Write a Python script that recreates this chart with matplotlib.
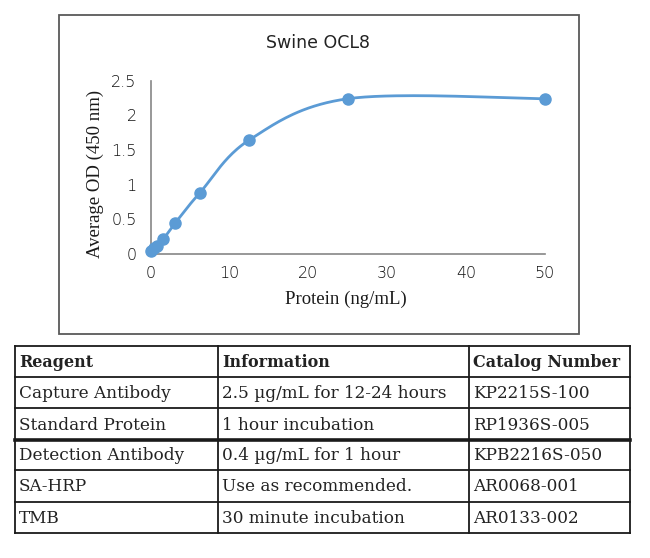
import numpy as np
import matplotlib
matplotlib.use("Agg")
import matplotlib.pyplot as plt
from matplotlib.patches import Rectangle
from matplotlib.lines import Line2D

# ---- data ----
protein = [0, 0.39, 0.78, 1.56, 3.125, 6.25, 12.5, 25, 50]
od = [0.04, 0.08, 0.12, 0.21, 0.45, 0.885, 1.645, 2.24, 2.24]
x_ticks = [0, 10, 20, 30, 40, 50]
y_ticks = [0, 0.5, 1, 1.5, 2, 2.5]
y_tick_labels = ["0", "0.5", "1", "1.5", "2", "2.5"]
title = "Swine OCL8"
x_label = "Protein (ng/mL)"
y_label = "Average OD (450 nm)"

table_header = ["Reagent", "Information", "Catalog Number"]
reagents = ["Capture Antibody", "Standard Protein", "Detection Antibody", "SA-HRP", "TMB"]
information = ["2.5 µg/mL for 12-24 hours", "1 hour incubation", "0.4 µg/mL for 1 hour",
               "Use as recommended.", "30 minute incubation"]
catalog = ["KP2215S-100", "RP1936S-005", "KPB2216S-050", "AR0068-001", "AR0133-002"]

W, H = 650, 558
fig = plt.figure(figsize=(W / 100, H / 100), dpi=100)
fig.patch.set_facecolor("white")

def fx(px):
    return px / W

def fy(py):
    return 1 - py / H

# outer chart box
fig.patches.append(Rectangle((fx(58.5), fy(334)), fx(578.5) - fx(58.5), fy(15) - fy(334),
                             transform=fig.transFigure, fill=False, edgecolor="#595959", lw=1.3))

# axes
x0p, x1p = 150.7, 545.0
y0p, y1p = 254.0, 80.7
ax = fig.add_axes([fx(x0p), fy(y0p), fx(x1p) - fx(x0p), fy(y1p) - fy(y0p)])
ax.set_xlim(0, 50)
ax.set_ylim(0, 2.5)
for s in ["top", "right"]:
    ax.spines[s].set_visible(False)
for s in ["left", "bottom"]:
    ax.spines[s].set_color("#868686")
    ax.spines[s].set_linewidth(1.2)
ax.tick_params(length=0, pad=9, labelsize=11.5, colors="#111111")
ax.set_xticks(x_ticks)
ax.set_yticks(y_ticks)
ax.set_yticklabels(y_tick_labels)
for lab in ax.get_xticklabels() + ax.get_yticklabels():
    lab.set_fontfamily("DejaVu Sans")
    lab.set_fontweight("light")
ax.tick_params(axis="y", pad=10)

# Excel-like smoothed line (Bezier through points in screen-proportional space)
sx = (x1p - x0p) / 50.0
sy = (y0p - y1p) / 2.5
P = np.column_stack([np.array(protein) * sx, np.array(od) * sy])
n = len(P)
curve = []
t = np.linspace(0, 1, 40)
for i in range(n - 1):
    p0 = P[i - 1] if i > 0 else P[i]
    p1 = P[i]
    p2 = P[i + 1]
    p3 = P[i + 2] if i + 2 < n else P[i + 1]
    c1 = p1 + (p2 - p0) / 6.0
    c2 = p2 - (p3 - p1) / 6.0
    seg = ((1 - t) ** 3)[:, None] * p1 + (3 * (1 - t) ** 2 * t)[:, None] * c1 + \
          (3 * (1 - t) * t ** 2)[:, None] * c2 + (t ** 3)[:, None] * p2
    curve.append(seg)
curve = np.vstack(curve)
ax.plot(curve[:, 0] / sx, curve[:, 1] / sy, color="#5B9BD5", lw=2.0, clip_on=False, zorder=3)
ax.plot(protein, od, "o", color="#5B9BD5", ms=8, clip_on=False, zorder=4)

fig.text(fx(318), fy(43), title, ha="center", va="center",
         fontsize=12.5, family="DejaVu Sans", color="#222222")
fig.text(fx(346), fy(299), x_label, ha="center", va="center",
         fontsize=13.5, family="Liberation Serif", color="#1a1a1a")
fig.text(fx(95), fy(174), y_label, ha="center", va="center", rotation=90,
         fontsize=13.5, family="Liberation Serif", color="#1a1a1a")

# ---- table ----
cols = [15, 218, 469, 630]
rows = [345.7, 376.7, 408, 440, 470, 501.7, 533]
lines_color = "#1a1a1a"
def hline(y, lw=1.3):
    fig.add_artist(Line2D([fx(cols[0]), fx(cols[-1])], [fy(y), fy(y)], transform=fig.transFigure,
                          color=lines_color, lw=lw))
def vline(x, lw=1.3):
    fig.add_artist(Line2D([fx(x), fx(x)], [fy(rows[0]), fy(rows[-1])], transform=fig.transFigure,
                          color=lines_color, lw=lw))
for i, y in enumerate(rows):
    hline(y, lw=2.6 if i == 3 else 1.3)
for x in cols:
    vline(x)

table_rows = [table_header] + [[r, inf, c] for r, inf, c in zip(reagents, information, catalog)]
for ri, row in enumerate(table_rows):
    yc = (rows[ri] + rows[ri + 1]) / 2 + 1
    for ci, txt in enumerate(row):
        fig.text(fx(cols[ci] + 4), fy(yc), txt, ha="left", va="center",
                 fontsize=11.5 if ri == 0 else 12.2, family="DejaVu Serif", color="#222222",
                 fontweight="bold" if ri == 0 else "normal")

fig.savefig("out.png", dpi=100, facecolor="white")
